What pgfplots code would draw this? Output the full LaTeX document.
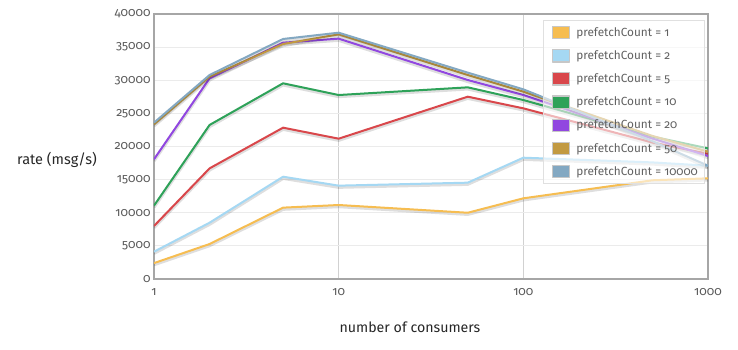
\documentclass[border=0pt]{standalone}
\usepackage{fontspec}
\setmainfont[Numbers=OldStyle]{Fira Sans}
\usepackage{pgfplots}
\pgfplotsset{compat=1.18}
\definecolor{c1}{HTML}{F6BD51}
\definecolor{c2}{HTML}{A5D8F3}
\definecolor{c3}{HTML}{D9474B}
\definecolor{c4}{HTML}{2EA259}
\definecolor{c5}{HTML}{9147E0}
\definecolor{c6}{HTML}{C29A42}
\definecolor{c7}{HTML}{83A8C2}
\pgfplotstableread{
x y1 y2 y3 y4 y5 y6 y7
1 2400 4120 8000 11070 18070 23350 23600
2 5280 8500 16700 23250 30290 30540 30790
5 10770 15440 22840 29540 35670 35470 36230
10 11170 14090 21180 27770 36280 36930 37180
50 10000 14540 27520 28930 30040 30790 31150
100 12180 18310 25760 27020 27770 28280 28630
500 14900 17600 20600 21500 21200 21600 20800
1000 15200 17100 18900 19720 18570 19220 17100
}\data
\tikzset{shadowline/.style={black, opacity=0.13, line width=3.2pt, transform canvas={yshift=-1.6pt}}}
\begin{document}
\begin{tikzpicture}
\path[use as bounding box] (-154pt,-71pt) rectangle (584pt,279pt);
\begin{semilogxaxis}[
  at={(0,0)}, anchor=south west,
  scale only axis, width=554pt, height=265pt,
  xmin=1, xmax=1000, ymin=0, ymax=40000,
  xtick={1,10,100,1000}, xticklabels={1,10,100,1000},
  ytick={0,5000,...,40000},
  yticklabels={0,5000,10000,15000,20000,25000,30000,35000,40000},
  xminorticks=false, yminorticks=false,
  major tick length=0pt,
  scaled y ticks=false,
  xmajorgrids, ymajorgrids,
  x grid style={draw=black!18, line width=0.8pt},
  y grid style={draw=black!8, line width=0.8pt},
  axis line style={draw=black!35, line width=2.4pt},
  tick label style={font=\fontsize{12.3}{14}\selectfont, text=black!65},
  xticklabel style={yshift=-6pt},
  yticklabel style={xshift=0pt},
  every axis x label/.style={at={(axis description cs:0.462,-0.181)}, anchor=center, font=\fontsize{14.2}{16}\selectfont, text=black!85},
  every axis y label/.style={at={(axis description cs:-0.175,0.45)}, anchor=center, font=\fontsize{14.5}{16}\selectfont, text=black!85},
  xlabel={number of consumers},
  ylabel={rate (msg/s)},
  legend cell align=left,
  legend style={at={(0.702,0.977)}, anchor=north west, fill=white, fill opacity=0.6, text opacity=1, draw=black!12, line width=0.8pt, font=\fontsize{11.8}{14}\selectfont, text=black!62, row sep=8.8pt, inner xsep=4pt, inner ysep=5pt},
  legend image code/.code={
    \draw[#1, line width=11pt, opacity=1] (0pt,0pt) -- (16pt,0pt);
    \draw[black!22, line width=1.2pt, opacity=1] (-0.6pt,-6.1pt) rectangle (16.6pt,6.1pt);
  },
  every axis plot/.append style={line width=2pt, line join=round},
]
\addplot[shadowline, forget plot] table[x=x,y=y1]{\data};
\addplot[c1] table[x=x,y=y1]{\data};
\addplot[shadowline, forget plot] table[x=x,y=y2]{\data};
\addplot[c2] table[x=x,y=y2]{\data};
\addplot[shadowline, forget plot] table[x=x,y=y3]{\data};
\addplot[c3] table[x=x,y=y3]{\data};
\addplot[shadowline, forget plot] table[x=x,y=y4]{\data};
\addplot[c4] table[x=x,y=y4]{\data};
\addplot[shadowline, forget plot] table[x=x,y=y5]{\data};
\addplot[c5] table[x=x,y=y5]{\data};
\addplot[shadowline, forget plot] table[x=x,y=y6]{\data};
\addplot[c6] table[x=x,y=y6]{\data};
\addplot[shadowline, forget plot] table[x=x,y=y7]{\data};
\addplot[c7] table[x=x,y=y7]{\data};
\legend{prefetchCount = 1, prefetchCount = 2, prefetchCount = 5, prefetchCount = 10, prefetchCount = 20, prefetchCount = 50, prefetchCount = 10000}
\end{semilogxaxis}
\end{tikzpicture}
\end{document}
